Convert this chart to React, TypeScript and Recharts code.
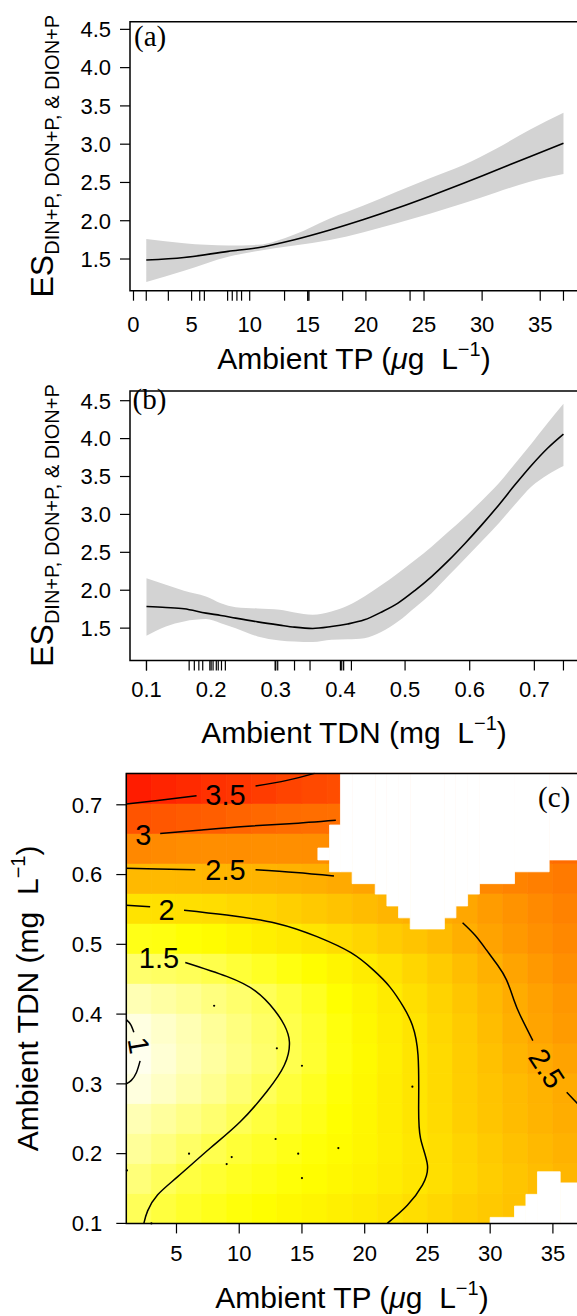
import React from 'react';
import { ComposedChart, XAxis, YAxis, Line, Area, Scatter, ReferenceArea, ReferenceDot } from 'recharts';

const FONT = '"Liberation Sans", Arial, Helvetica, sans-serif';
const SERIF = '"Liberation Serif", "Times New Roman", serif';

// ---------- Panel (a): ES vs ambient TP ----------
const tpX = [1.1, 4.35, 8.15, 10.7, 13.85, 16.9, 19.8, 22.65, 25.5, 28.4, 31.2, 34.1, 37.0];
const tpFit = [1.487, 1.52, 1.6, 1.648, 1.752, 1.879, 2.015, 2.162, 2.32, 2.489, 2.66, 2.836, 3.011];
const tpHi = [1.76, 1.705, 1.675, 1.685, 1.82, 2.03, 2.2, 2.379, 2.555, 2.728, 2.94, 3.19, 3.41];
const tpLo = [1.2, 1.347, 1.53, 1.605, 1.675, 1.748, 1.85, 1.966, 2.09, 2.227, 2.37, 2.51, 2.61];
const tpRug = [1.1, 3.0, 5.7, 6.1, 8.1, 8.5, 8.9, 9.3, 13.0, 15.0, 15.1, 18.0, 23.8, 37.0];
const tpTicks = [0, 5, 10, 15, 20, 25, 30, 35];
const esTicks = [1.5, 2.0, 2.5, 3.0, 3.5, 4.0, 4.5];

// ---------- Panel (b): ES vs ambient TDN ----------
const tdnX = [0.1, 0.13, 0.158, 0.192, 0.215, 0.238, 0.272, 0.306, 0.329, 0.357, 0.386, 0.411, 0.437, 0.463, 0.489, 0.515, 0.541, 0.567, 0.593, 0.619, 0.645, 0.67, 0.696, 0.72, 0.745];
const tdnFit = [1.785, 1.772, 1.755, 1.698, 1.667, 1.632, 1.583, 1.54, 1.513, 1.496, 1.521, 1.555, 1.609, 1.71, 1.83, 1.995, 2.18, 2.39, 2.62, 2.865, 3.125, 3.39, 3.652, 3.87, 4.06];
const tdnHi = [2.159, 2.071, 1.992, 1.917, 1.829, 1.777, 1.759, 1.742, 1.706, 1.676, 1.72, 1.795, 1.917, 2.065, 2.225, 2.395, 2.575, 2.77, 2.97, 3.185, 3.41, 3.67, 3.94, 4.2, 4.46];
const tdnLo = [1.399, 1.522, 1.588, 1.619, 1.566, 1.5, 1.39, 1.338, 1.324, 1.316, 1.346, 1.352, 1.368, 1.45, 1.587, 1.77, 1.961, 2.19, 2.42, 2.65, 2.884, 3.13, 3.37, 3.52, 3.64];
const tdnRug = [0.1, 0.166, 0.174, 0.181, 0.187, 0.198, 0.203, 0.208, 0.211, 0.216, 0.222, 0.299, 0.303, 0.329, 0.353, 0.402, 0.405, 0.417, 0.745];
const tdnTicks = [0.1, 0.2, 0.3, 0.4, 0.5, 0.6, 0.7];

// ---------- Panel (c): ES surface over TP x TDN ----------
const heatXEdges = [1, 3, 5, 7, 9, 11, 13, 15, 17, 19, 21, 23, 25, 27, 29, 31, 33, 35, 37];
const heatYEdges = [0.1, 0.143, 0.186, 0.229, 0.272, 0.315, 0.358, 0.401, 0.444, 0.487, 0.53, 0.573, 0.616, 0.659, 0.702, 0.745];
const heatRow0 = [1.48, 1.56, 1.62, 1.67, 1.72, 1.76, 1.80, 1.84, 1.88, 1.93, 1.98, 2.04, 2.10, 2.17, 2.23, 2.28, 2.33, 2.38];
const heatRow1 = [1.38, 1.47, 1.55, 1.60, 1.65, 1.69, 1.73, 1.77, 1.81, 1.86, 1.91, 1.97, 2.03, 2.11, 2.19, 2.26, 2.33, 2.39];
const heatRow2 = [1.28, 1.36, 1.44, 1.51, 1.58, 1.63, 1.68, 1.73, 1.78, 1.83, 1.89, 1.96, 2.04, 2.13, 2.22, 2.30, 2.37, 2.43];
const heatRow3 = [1.20, 1.27, 1.34, 1.41, 1.49, 1.56, 1.62, 1.68, 1.75, 1.82, 1.90, 1.98, 2.07, 2.17, 2.26, 2.34, 2.41, 2.47];
const heatRow4 = [1.07, 1.15, 1.23, 1.31, 1.40, 1.48, 1.57, 1.65, 1.73, 1.81, 1.90, 1.98, 2.08, 2.18, 2.27, 2.35, 2.42, 2.49];
const heatRow5 = [1.02, 1.10, 1.18, 1.26, 1.34, 1.42, 1.51, 1.60, 1.70, 1.79, 1.88, 1.98, 2.08, 2.19, 2.30, 2.40, 2.49, 2.56];
const heatRow6 = [1.06, 1.13, 1.20, 1.28, 1.36, 1.44, 1.52, 1.61, 1.71, 1.81, 1.90, 1.99, 2.10, 2.21, 2.33, 2.45, 2.55, 2.63];
const heatRow7 = [1.20, 1.25, 1.30, 1.36, 1.42, 1.48, 1.56, 1.65, 1.75, 1.84, 1.93, 2.03, 2.14, 2.25, 2.37, 2.48, 2.58, 2.67];
const heatRow8 = [1.42, 1.45, 1.48, 1.52, 1.58, 1.64, 1.70, 1.77, 1.84, 1.92, 2.01, 2.11, 2.21, 2.32, 2.44, 2.55, 2.65, 2.74];
const heatRow9 = [1.68, 1.70, 1.74, 1.78, 1.83, 1.88, 1.93, 1.98, 2.05, 2.12, 2.20, 2.27, 2.35, 2.46, 2.56, 2.65, 2.73, 2.80];
const heatRow10 = [2.00, 2.02, 2.03, 2.05, 2.09, 2.12, 2.17, 2.23, 2.28, 2.34, 2.40, 2.45, 2.48, 2.53, 2.62, 2.70, 2.78, 2.85];
const heatRow11 = [2.37, 2.37, 2.38, 2.39, 2.40, 2.41, 2.43, 2.46, 2.50, 2.55, 2.60, 2.65, 2.70, 2.75, 2.80, 2.84, 2.88, 2.92];
const heatRow12 = [2.80, 2.78, 2.76, 2.75, 2.75, 2.74, 2.74, 2.75, 2.77, 2.80, 2.84, 2.88, 2.92, 2.95, 2.98, 3.00, 3.02, 3.05];
const heatRow13 = [3.26, 3.23, 3.20, 3.17, 3.12, 3.08, 3.05, 3.03, 3.02, 3.02, 3.02, 3.03, 3.04, 3.05, 3.06, 3.07, 3.08, 3.10];
const heatRow14 = [3.75, 3.68, 3.63, 3.57, 3.52, 3.47, 3.40, 3.36, 3.32, 3.30, 3.28, 3.26, 3.25, 3.25, 3.25, 3.25, 3.25, 3.25];
const heatRows = [heatRow0, heatRow1, heatRow2, heatRow3, heatRow4, heatRow5, heatRow6, heatRow7, heatRow8, heatRow9, heatRow10, heatRow11, heatRow12, heatRow13, heatRow14];

// regions without prediction (drawn white): [x1, x2, y1, y2]
const maskTop = [
  [16.27, 17.2, 0.621, 0.638],
  [17.2, 18.07, 0.604, 0.671],
  [18.07, 19.0, 0.604, 0.745],
  [19.0, 20.84, 0.587, 0.745],
  [20.84, 21.77, 0.572, 0.745],
  [21.77, 22.7, 0.555, 0.745],
  [22.7, 23.63, 0.538, 0.745],
  [23.63, 26.35, 0.522, 0.745],
  [26.35, 27.27, 0.538, 0.745],
  [27.27, 28.2, 0.555, 0.745],
  [28.2, 29.14, 0.572, 0.745],
  [29.14, 31.94, 0.587, 0.745],
  [31.94, 34.7, 0.604, 0.745],
  [34.7, 37.0, 0.621, 0.745],
];
const maskBottom = [
  [30.0, 31.94, 0.1, 0.1086],
  [31.94, 32.85, 0.1, 0.1248],
  [32.85, 33.77, 0.1, 0.1416],
  [33.77, 35.58, 0.1, 0.174],
  [35.58, 37.0, 0.1, 0.158],
];

// contour lines (TP, TDN)
const c35a = [[1.0, 0.701], [3.5, 0.706], [6.6, 0.713]];
const c35b = [[11.3, 0.727], [13.8, 0.735], [16.0, 0.745]];
const c30 = [[3.7, 0.659], [7.0, 0.664], [10.4, 0.669], [14.0, 0.673], [17.7, 0.678]];
const c25a = [[1.0, 0.609], [3.5, 0.608], [6.5, 0.607]];
const c25b = [[11.3, 0.607], [14.5, 0.603], [17.55, 0.598]];
const c20a = [[1.0, 0.556], [2.9, 0.554]];
const c20b = [[5.6, 0.549], [9.0, 0.542], [13.0, 0.53], [16.2, 0.511], [18.9, 0.488], [20.7, 0.463], [22.0, 0.439], [23.1, 0.41], [23.8, 0.384], [24.25, 0.341], [24.3, 0.27], [24.45, 0.222], [25.0, 0.184], [24.6, 0.155], [23.4, 0.126], [21.8, 0.1]];
const c15 = [[5.7, 0.474], [9.0, 0.454], [11.3, 0.433], [12.8, 0.406], [13.6, 0.384], [14.0, 0.36], [13.6, 0.327], [12.2, 0.289], [10.1, 0.246], [7.7, 0.208], [5.1, 0.167], [3.5, 0.141], [2.7, 0.118], [2.4, 0.1]];
const c10a = [[1.0, 0.392], [1.35, 0.385], [1.6, 0.374]];
const c10b = [[2.1, 0.333], [1.8, 0.316], [1.4, 0.305], [1.0, 0.3]];
const c25r = [[27.8, 0.531], [28.8, 0.513], [29.7, 0.492], [30.6, 0.47], [31.3, 0.449], [31.9, 0.42], [32.4, 0.398], [33.4, 0.362]];
const c25r2 = [[36.1, 0.288], [36.95, 0.272]];
const contourSegs = [c35a, c35b, c30, c25a, c25b, c20a, c20b, c15, c10a, c10b, c25r, c25r2];

const contourLabelText = ['3.5', '3', '2.5', '2', '1.5', '1', '2.5'];
const contourLabelX = [8.9, 2.35, 8.9, 4.2, 3.6, 2.0, 34.5];
const contourLabelY = [0.714, 0.657, 0.607, 0.549, 0.48, 0.355, 0.322];
const contourLabelAngle = [0, 0, 0, 0, 0, 80, 57];

const obsTP = [8.0, 13.0, 15.0, 12.9, 6.0, 9.4, 9.0, 14.7, 17.9, 15.0, 3.0, 1.05, 23.8];
const obsTDN = [0.412, 0.351, 0.326, 0.221, 0.2, 0.195, 0.185, 0.2, 0.208, 0.165, 0.1, 0.176, 0.296];
const tdnTicksC = [0.1, 0.2, 0.3, 0.4, 0.5, 0.6, 0.7];
const tpTicksC = [5, 10, 15, 20, 25, 30, 35];

// ---------- helpers ----------
function heatColor(v: number): string {
  if (v >= 1.75) {
    const h = Math.max(0, Math.min(60, (60 * (4 - v)) / 2.25));
    return `hsl(${h.toFixed(1)},100%,50%)`;
  }
  const s = Math.max(0.04, Math.min(1, 0.04 + (0.96 * (v - 1)) / 0.75));
  const b = Math.round(255 * (1 - s));
  return `rgb(255,255,${b})`;
}

const RugTick = (props: any) => {
  const { cx, cy } = props;
  if (cx == null || cy == null) return null;
  return <line x1={cx} x2={cx} y1={cy} y2={cy + 10} stroke="#000" strokeWidth={1.2} />;
};

const ObsDot = (props: any) => {
  const { cx, cy } = props;
  if (cx == null || cy == null) return null;
  return <circle cx={cx} cy={cy} r={1.1} fill="#000" />;
};

const makeLabelShape = (text: string, angle: number) => (p: any) => (
  <text
    x={p.cx}
    y={p.cy}
    textAnchor="middle"
    dominantBaseline="central"
    fontSize={29}
    fontFamily={FONT}
    fill="#000"
    transform={angle ? `rotate(${angle},${p.cx},${p.cy})` : undefined}
  >
    {text}
  </text>
);

const tickStyle = { fill: '#000', fontSize: 22, fontFamily: FONT };
const tickLineStyle = { stroke: '#000', strokeWidth: 1.2 };

const dataA = tpX.map((x, i) => ({ x, fit: tpFit[i], band: [tpLo[i], tpHi[i]] }));
const dataB = tdnX.map((x, i) => ({ x, fit: tdnFit[i], band: [tdnLo[i], tdnHi[i]] }));

const A_X: [number, number] = [-0.3, 38.25];
const A_Y: [number, number] = [1.086, 4.6];
const B_X: [number, number] = [0.0745, 0.7675];
const B_Y: [number, number] = [1.073, 4.628];
const C_X: [number, number] = [1, 37];
const C_Y: [number, number] = [0.1, 0.745];

const A_H = 350;
const B_H = 340;
const C_H = 525;

function PanelA() {
  const rug = tpRug.map((x) => ({ x, y: A_Y[0] }));
  return (
    <ComposedChart width={578} height={A_H} data={dataA} margin={{ top: 21.7, right: 0, left: 70, bottom: 0 }}>
      <XAxis dataKey="x" type="number" domain={A_X} ticks={tpTicks} interval={0} axisLine={false} tickLine={tickLineStyle} tickSize={10} tickMargin={16} tick={tickStyle} height={A_H - 21.7 - 269} />
      <YAxis dataKey="y" type="number" domain={A_Y} ticks={esTicks} interval={0} tickFormatter={(v: number) => v.toFixed(1)} axisLine={false} tickLine={tickLineStyle} tickSize={10} tickMargin={9} tick={tickStyle} width={60} />
      <Area dataKey="band" type="monotone" stroke="none" fill="#d3d3d3" fillOpacity={1} isAnimationActive={false} activeDot={false} />
      <Line dataKey="fit" type="monotone" stroke="#000" strokeWidth={1.6} dot={false} activeDot={false} isAnimationActive={false} />
      <Scatter data={rug} dataKey="y" shape={RugTick} isAnimationActive={false} />
      <ReferenceArea x1={A_X[0]} x2={A_X[1]} y1={A_Y[0]} y2={A_Y[1]} fill="none" fillOpacity={0} stroke="#000" strokeWidth={1.5} ifOverflow="visible" />
    </ComposedChart>
  );
}

function PanelB() {
  const rug = tdnRug.map((x) => ({ x, y: B_Y[0] }));
  return (
    <ComposedChart width={578} height={B_H} data={dataB} margin={{ top: 11, right: 0, left: 70, bottom: 0 }}>
      <XAxis dataKey="x" type="number" domain={B_X} ticks={tdnTicks} interval={0} tickFormatter={(v: number) => v.toFixed(1)} axisLine={false} tickLine={tickLineStyle} tickSize={10} tickMargin={10.5} tick={tickStyle} height={B_H - 11 - 269.5} />
      <YAxis dataKey="y" type="number" domain={B_Y} ticks={esTicks} interval={0} tickFormatter={(v: number) => v.toFixed(1)} axisLine={false} tickLine={tickLineStyle} tickSize={10} tickMargin={9} tick={tickStyle} width={60} />
      <Area dataKey="band" type="monotone" stroke="none" fill="#d3d3d3" fillOpacity={1} isAnimationActive={false} activeDot={false} />
      <Line dataKey="fit" type="monotone" stroke="#000" strokeWidth={1.6} dot={false} activeDot={false} isAnimationActive={false} />
      <Scatter data={rug} dataKey="y" shape={RugTick} isAnimationActive={false} />
      <ReferenceArea x1={B_X[0]} x2={B_X[1]} y1={B_Y[0]} y2={B_Y[1]} fill="none" fillOpacity={0} stroke="#000" strokeWidth={1.5} ifOverflow="visible" />
    </ComposedChart>
  );
}

function PanelC() {
  const obs = obsTP.map((x, i) => ({ x, y: obsTDN[i] }));
  const cells: React.ReactNode[] = [];
  heatRows.forEach((row, j) => {
    row.forEach((v, i) => {
      const col = heatColor(v);
      cells.push(
        <ReferenceArea key={`h${i}_${j}`} x1={heatXEdges[i]} x2={heatXEdges[i + 1]} y1={heatYEdges[j]} y2={heatYEdges[j + 1]} fill={col} fillOpacity={1} stroke={col} strokeWidth={0.8} ifOverflow="visible" />
      );
    });
  });
  const masks = [...maskTop, ...maskBottom].map((m, k) => (
    <ReferenceArea key={`m${k}`} x1={m[0]} x2={m[1]} y1={m[2]} y2={m[3]} fill="#fff" fillOpacity={1} stroke="#fff" strokeWidth={0.8} ifOverflow="visible" />
  ));
  return (
    <ComposedChart width={578} height={C_H} margin={{ top: 13.4, right: 0, left: 66.3, bottom: 0 }}>
      <XAxis dataKey="x" type="number" domain={C_X} ticks={tpTicksC} interval={0} axisLine={false} tickLine={tickLineStyle} tickSize={10} tickMargin={12} tick={tickStyle} height={C_H - 13.4 - 450} />
      <YAxis dataKey="y" type="number" domain={C_Y} ticks={tdnTicksC} interval={0} tickFormatter={(v: number) => v.toFixed(1)} axisLine={false} tickLine={tickLineStyle} tickSize={10} tickMargin={14} tick={tickStyle} width={60} />
      {cells}
      {masks}
      {contourSegs.map((seg, k) => (
        <Line key={`c${k}`} data={seg.map((p) => ({ x: p[0], y: p[1] }))} dataKey="y" type="natural" stroke="#000" strokeWidth={1.5} dot={false} activeDot={false} isAnimationActive={false} />
      ))}
      <Scatter data={obs} dataKey="y" shape={ObsDot} isAnimationActive={false} />
      {contourLabelText.map((t, k) => (
        <ReferenceDot key={`l${k}`} x={contourLabelX[k]} y={contourLabelY[k]} r={0} shape={makeLabelShape(t, contourLabelAngle[k])} ifOverflow="visible" />
      ))}
      <ReferenceArea x1={C_X[0]} x2={C_X[1]} y1={C_Y[0]} y2={C_Y[1]} fill="none" fillOpacity={0} stroke="#000" strokeWidth={1.5} ifOverflow="visible" />
    </ComposedChart>
  );
}

const EsTitle = ({ bx, cy }: { bx: number; cy: number }) => (
  <text transform={`translate(${bx},${cy}) rotate(-90)`} textAnchor="middle" fontFamily={FONT} fill="#000">
    <tspan fontSize={32}>ES</tspan>
    <tspan fontSize={20} dy={6}>DIN+P, DON+P, &amp; DION+P</tspan>
  </text>
);

const TpTitle = ({ x, y, rotate }: { x: number; y: number; rotate?: boolean }) => (
  <text x={rotate ? 0 : x} y={rotate ? 0 : y} transform={rotate ? `translate(${x},${y}) rotate(-90)` : undefined} textAnchor="middle" fontFamily={FONT} fontSize={30} fill="#000">
    Ambient TP (<tspan fontStyle="italic">μ</tspan>g{'\u00a0\u00a0'}L<tspan fontSize={20} dy={-13}>−1</tspan><tspan dy={13}>)</tspan>
  </text>
);

const TdnTitle = ({ x, y, rotate }: { x: number; y: number; rotate?: boolean }) => (
  <text x={rotate ? 0 : x} y={rotate ? 0 : y} transform={rotate ? `translate(${x},${y}) rotate(-90)` : undefined} textAnchor="middle" fontFamily={FONT} fontSize={30} fill="#000">
    Ambient TDN (mg{'\u00a0\u00a0'}L<tspan fontSize={20} dy={-13}>−1</tspan><tspan dy={13}>)</tspan>
  </text>
);

export default function App() {
  return (
    <div style={{ position: 'absolute', left: 0, top: 0, width: 577, height: 1316, overflow: 'hidden', background: '#fff' }}>
      <div style={{ position: 'absolute', left: 0, top: 0 }}>
        <PanelA />
      </div>
      <div style={{ position: 'absolute', left: 0, top: 380 }}>
        <PanelB />
      </div>
      <div style={{ position: 'absolute', left: 0, top: 760 }}>
        <PanelC />
      </div>
      <svg width={577} height={1316} style={{ position: 'absolute', left: 0, top: 0, pointerEvents: 'none' }}>
        <text x={134} y={46} fontFamily={SERIF} fontSize={29} fill="#000">(a)</text>
        <text x={132.5} y={409} fontFamily={SERIF} fontSize={29} fill="#000">(b)</text>
        <text x={538} y={807} fontFamily={SERIF} fontSize={29} fill="#000">(c)</text>
        <EsTitle bx={53.3} cy={156.2} />
        <EsTitle bx={53.3} cy={525.5} />
        <TpTitle x={354} y={369} />
        <TdnTitle x={354} y={743} />
        <TdnTitle x={38} y={998.4} rotate />
        <TpTitle x={352} y={1308} />
      </svg>
    </div>
  );
}
